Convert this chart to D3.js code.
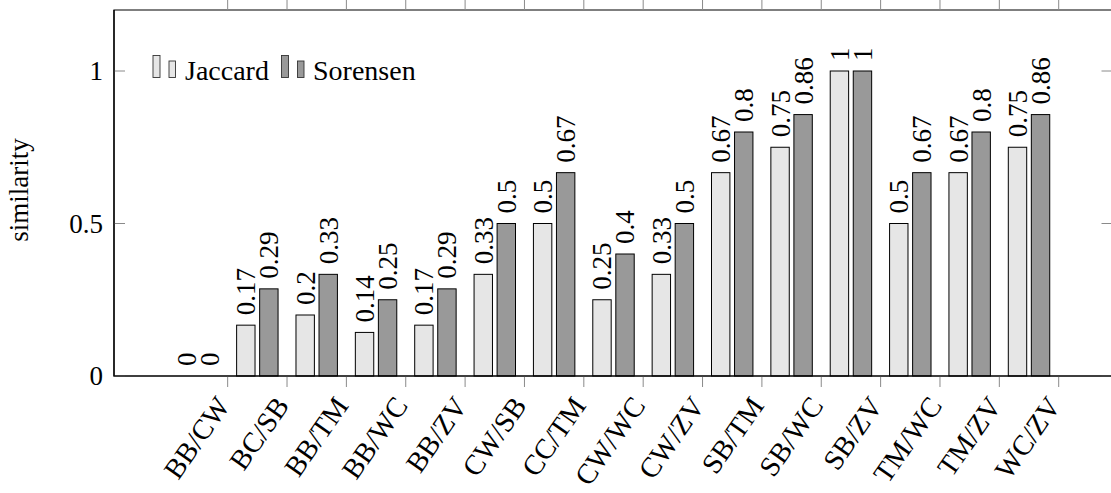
<!DOCTYPE html>
<html>
<head>
<meta charset="utf-8">
<script src="https://cdn.jsdelivr.net/npm/d3@7/dist/d3.min.js"></script>
<style>
  html, body { margin: 0; padding: 0; background: #fff; }
  svg { display: block; }
</style>
</head>
<body>
<div id="chart"></div>
<script>
// ---- data ----
const categories = ["BB/CW", "BC/SB", "BB/TM", "BB/WC", "BB/ZV", "CW/SB", "CC/TM", "CW/WC",
                    "CW/ZV", "SB/TM", "SB/WC", "SB/ZV", "TM/WC", "TM/ZV", "WC/ZV"];
const jaccard  = [0, 0.1667, 0.2, 0.1429, 0.1667, 0.3333, 0.5, 0.25, 0.3333, 0.6667, 0.75, 1, 0.5, 0.6667, 0.75];
const sorensen = [0, 0.2857, 0.3333, 0.25, 0.2857, 0.5, 0.6667, 0.4, 0.5, 0.8, 0.8571, 1, 0.6667, 0.8, 0.8571];
const seriesNames = ["Jaccard", "Sorensen"];
const yTicks = [0, 0.5, 1];
const yLabel = "similarity";

// ---- layout ----
const W = 1111, H = 493;
const frame = { left: 114, right: 1112.5, top: 10, bottom: 376 };
const colors = ["#e6e6e6", "#999999"];
const fontSize = 27;
const FONT = "'Liberation Serif', 'Times New Roman', Times, serif";

const svg = d3.select("#chart").append("svg").attr("width", W).attr("height", H)
  .attr("font-family", FONT).style("font-family", FONT);

const x = d3.scaleBand().domain(categories).range([168.3, 1058.7]).paddingInner(0).paddingOuter(0);
const y = d3.scaleLinear().domain([0, 1.2]).range([frame.bottom, frame.top]);
const bw = x.bandwidth();
const barW = bw * 0.31;
const shift = bw * 0.194;

function txt(sel, size) {
  return sel.attr("font-family", FONT).style("font-family", FONT).attr("fill", "#000").attr("font-size", size || fontSize);
}

// bars
const series = [jaccard, sorensen];
series.forEach((vals, s) => {
  const off = s === 0 ? -shift : shift;
  const g = svg.append("g");
  g.selectAll("rect").data(categories).join("rect")
    .attr("x", (c) => x(c) + bw / 2 + off - barW / 2)
    .attr("y", (c, i) => y(vals[i]))
    .attr("width", barW)
    .attr("height", (c, i) => y(0) - y(vals[i]))
    .attr("fill", colors[s])
    .attr("stroke", "#000")
    .attr("stroke-width", 1);
  txt(g.selectAll("text").data(categories).join("text"))
    .attr("transform", (c, i) => `translate(${x(c) + bw / 2 + off},${y(vals[i]) - 10}) rotate(-90)`)
    .attr("dy", "0.35em")
    .attr("text-anchor", "start")
    .text((c, i) => String(+vals[i].toFixed(2)));
});

// frame
svg.append("path")
  .attr("d", `M${frame.left},${frame.bottom}V${frame.top}H${frame.right}V${frame.bottom}Z`)
  .attr("fill", "none").attr("stroke", "#000").attr("stroke-width", 1.2);

// x ticks (bottom & top, outward)
const tickLen = 11;
const tickColor = "#8a8a8a";
const xt = svg.append("g");
categories.forEach((c) => {
  const tx = x(c) + bw;
  xt.append("line").attr("x1", tx).attr("x2", tx).attr("y1", frame.bottom).attr("y2", frame.bottom + tickLen)
    .attr("stroke", tickColor).attr("stroke-width", 1);
  xt.append("line").attr("x1", tx).attr("x2", tx).attr("y1", frame.top).attr("y2", frame.top - tickLen)
    .attr("stroke", tickColor).attr("stroke-width", 1);
  txt(xt.append("text"), 28.5)
    .attr("transform", `translate(${tx - 5},${frame.bottom + 24}) rotate(-55)`)
    .attr("dy", "0.35em")
    .attr("text-anchor", "end")
    .text(c);
});

// y ticks (inside, both sides)
const yt = svg.append("g");
yTicks.forEach((t) => {
  const ty = y(t);
  yt.append("line").attr("x1", frame.left).attr("x2", frame.left + tickLen).attr("y1", ty).attr("y2", ty)
    .attr("stroke", tickColor).attr("stroke-width", 1);
  yt.append("line").attr("x1", frame.right - tickLen).attr("x2", frame.right).attr("y1", ty).attr("y2", ty)
    .attr("stroke", tickColor).attr("stroke-width", 1);
  txt(yt.append("text"))
    .attr("x", 103).attr("y", ty).attr("dy", "0.35em")
    .attr("text-anchor", "end")
    .text(String(t));
});
// redraw frame lines over ticks
svg.append("path")
  .attr("d", `M${frame.left},${frame.top}V${frame.bottom}H${frame.right}`)
  .attr("fill", "none").attr("stroke", "#000").attr("stroke-width", 1.2);

// y label
txt(svg.append("text"))
  .attr("transform", `translate(28,190) rotate(-90)`)
  .attr("text-anchor", "middle")
  .text(yLabel);

// legend
const legend = svg.append("g");
const legendItems = [{ x: 153, tx: 185 }, { x: 281.5, tx: 313 }];
legendItems.forEach((it, s) => {
  legend.append("rect").attr("x", it.x).attr("y", 55.5).attr("width", 7).attr("height", 22)
    .attr("fill", colors[s]).attr("stroke", "#333").attr("stroke-width", 0.9);
  legend.append("rect").attr("x", it.x + 16).attr("y", 61).attr("width", 6.5).attr("height", 16.5)
    .attr("fill", colors[s]).attr("stroke", "#333").attr("stroke-width", 0.9);
  txt(legend.append("text"), 28).attr("x", it.tx).attr("y", 79.5)
    .text(seriesNames[s]);
});
</script>
</body>
</html>
